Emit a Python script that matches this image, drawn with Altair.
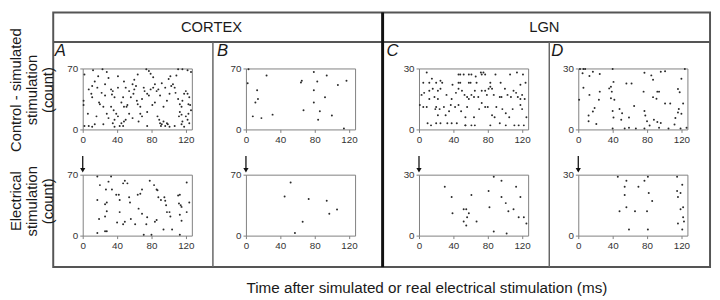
import altair as alt
import pandas as pd

# ---------------- data ----------------
X_DOMAIN = [0, 127]
X_TICKS = [0, 40, 80, 120]
CORTEX_MAX = 70
LGN_MAX = 30

A_top_t = [12,23,28,41,60,64,74,77,79,82,100,102,109,111,116,122,126,2,1,1,11,14,10,11,17,20,19,22,26,26,28,30,24,14,11,7,2,33,35,34,37,33,36,39,41,37,35,37,43,45,47,48,50,51,52,50,54,56,59,58,60,62,63,64,67,67,69,71,72,75,77,79,82,84,86,88,90,87,89,90,92,94,96,98,99,101,91,75,103,105,107,108,111,113,115,113,115,112,116,118,120,122,124,123,125,126,123,120,122,124,116,115,118,107,47,45,48,54,58,65,69,75,81,84,94,98,101,96,92,48,41,30,18,7,6,16,24]
A_top_n = [68,69,66,61,57,63,69,67,64,60,58,61,62,69,69,68,66,63,33,28,50,55,41,37,48,29,31,42,52,39,18,13,6,6,3,4,4,46,44,40,37,26,22,18,15,11,7,3,4,7,4,9,11,26,28,48,44,37,41,52,46,50,33,29,26,18,35,48,44,41,39,46,48,52,44,46,39,15,11,7,6,9,4,7,6,3,4,4,50,52,48,42,35,29,26,20,17,15,33,41,44,41,37,29,28,22,18,15,11,7,9,6,3,4,37,31,26,18,13,9,15,20,28,31,26,33,41,48,53,55,48,59,61,46,18,15,26]

B_top_t = [3,2,13,14,11,8,18,24,31,64,65,67,79,79,79,83,84,86,92,94,100,107,117,114]
B_top_n = [69,53,45,35,31,15,13,62,17,54,56,22,66,45,31,55,11,21,37,62,16,51,56,1]

C_top_t = [9,25,46,48,52,58,61,66,73,72,75,77,89,106,114,121,5,12,15,20,27,39,46,48,58,60,67,83,95,118,124,
           3,6,12,16,18,22,25,22,32,38,43,46,50,53,56,58,61,65,64,69,73,77,79,81,83,85,87,94,96,100,103,107,110,113,115,118,120,123,12,
           1,5,9,20,19,24,29,22,31,35,37,42,46,49,56,54,64,70,73,77,80,85,88,90,97,101,105,109,118,120,125,
           10,14,20,25,33,38,44,54,54,61,65,83,94,101,111,116,122]
C_top_n = [28,24,27,27,27,27,27,26,27,28,28,27,27,27,28,27,23,23,25,23,23,22,23,23,23,23,23,23,23,22,23,
           17,18,19,20,16,19,20,15,17,15,18,20,19,17,16,15,17,19,16,16,19,19,17,20,21,20,17,16,16,20,17,16,19,18,16,15,17,15,15,
           12,11,11,11,10,10,11,7,7,9,12,11,12,9,11,6,6,10,13,11,11,7,6,11,10,8,6,10,12,10,6,
           3,2,3,3,3,3,3,2,2,2,2,2,3,2,2,2,2]

D_top_t = [2,6,8,40,124,5,13,17,25,41,56,62,77,85,87,96,101,120,6,1,13,25,36,38,39,38,42,24,19,17,12,12,21,40,41,48,51,50,59,65,76,77,78,80,83,88,87,91,92,94,92,94,96,101,107,113,112,116,118,117,116,120,122,126,40,54,59,67,77,105,119]
D_top_n = [29.7,29.7,29.7,29.7,29.7,27.6,26.3,28.4,27.3,23.4,22.6,22.6,27.9,26.6,24.5,28.4,28.6,24.9,20.5,14.6,17,18.6,20.2,21,18.6,15.4,14.6,14.6,10.6,8.8,6.9,4,2.7,9.1,5.9,10.1,8,4.8,5.9,11.5,18.6,9.1,6.9,4,1.9,4.8,15.9,15.1,18.6,18.6,3.7,0.8,3.2,12.8,12.8,5.6,2.4,19.9,18.3,10.1,8.3,7.7,12.8,0.8,0.5,0.5,0.8,0.5,0.5,0.5,0.5]

A_bot_t = [17,33,20,27,30,34,47,49,52,78,83,86,87,121,17,26,28,39,42,43,54,55,64,67,69,88,91,95,96,97,111,113,112,114,115,124,28,26,19,43,40,49,47,56,61,65,69,74,75,84,86,98,101,102,113,115,121,17,26,28,71,80,94,104,113]
A_bot_n = [68,68,58,53,62,53,60,63,60,63,58,53,52,61,41,36,38,47,47,41,44,38,47,48,53,44,41,44,40,35,46,47,37,35,33,38,28,22,19,27,15,16,13,19,13,31,25,13,21,16,18,27,27,22,24,17,27,3,5,5,1,1,7,7,1]

B_bot_t = [52,45,73,94,106,97,66,57]
B_bot_n = [61,45,42,40,30,25,16,3]

C_bot_t = [30,38,39,61,55,52,58,56,52,55,67,81,82,87,87,96,96,101,104,110,113,118,116,122,125,102]
C_bot_n = [24,19,11,20,13,13,11,9,7,5,7,22,14,29,2,27,19,16,12,13,24,19,9,9,6,1]

D_bot_t = [46,56,54,54,70,77,81,82,86,56,48,66,80,59,81,115,121,115,119,116,119,122,122,123,116,121]
D_bot_n = [29,27,24,20,24,27,29,21,17,14,12,12,12,3,3,29,25,22,21,19,13,14,9,7,6,3]

REGIONS = ["CORTEX", "LGN"]
PANEL_LETTERS = ["A", "B", "C", "D"]
ROW_TITLES = [["Control - simulated", "stimulation", "(count)"],
              ["Electrical", "stimulation", "(count)"]]
X_TITLE = "Time after simulated or real electrical stimulation (ms)"

# ---------------- layout / style ----------------
FONT = "Liberation Sans"
W, H = 111, 62
GAPS = [55, 65, 51]
ROW_GAP = 46
ONE = pd.DataFrame({"k": [0]})
FRAME = "#555555"


def deco_rule(x=None, x2=None, y=None, y2=None, w=2, color=FRAME):
    enc = {}
    if x is not None:
        enc["x"] = alt.value(x)
    if x2 is not None:
        enc["x2"] = alt.value(x2)
    if y is not None:
        enc["y"] = alt.value(y)
    if y2 is not None:
        enc["y2"] = alt.value(y2)
    return alt.Chart(ONE).mark_rule(strokeWidth=w, color=color).encode(**enc)


def deco_text(txt, x, y, size, **kw):
    return alt.Chart(ONE).mark_text(text=txt, font=FONT, fontSize=size, color="#1a1a1a", **kw).encode(
        x=alt.value(x), y=alt.value(y))


def panel(t, n, ymax, arrow=False, extra=()):
    assert len(t) == len(n)
    df = pd.DataFrame({"t": t, "n": n})
    pts = alt.Chart(df).mark_circle(size=4, color="#2a2a2a", opacity=1).encode(
        x=alt.X("t:Q", scale=alt.Scale(domain=X_DOMAIN, nice=False, zero=False),
                axis=alt.Axis(values=X_TICKS, title=None, labelFlush=False)),
        y=alt.Y("n:Q", scale=alt.Scale(domain=[0, ymax], nice=False),
                axis=alt.Axis(values=[0, ymax], title=None, labelFlush=False)),
    )
    layers = [pts]
    if arrow:
        layers.append(alt.Chart(ONE).mark_rule(strokeWidth=1.3, color="#111111").encode(
            x=alt.value(0), y=alt.value(-19), y2=alt.value(-5)))
        layers.append(alt.Chart(ONE).mark_point(shape="triangle-down", filled=True, size=28,
                                                color="#111111", opacity=1).encode(
            x=alt.value(0), y=alt.value(-4.5)))
    layers.extend(extra)
    return alt.layer(*layers).properties(width=W, height=H)


def spacer(w):
    return alt.Chart(ONE).mark_point(opacity=0).encode(x=alt.value(0), y=alt.value(0)).properties(
        width=w, height=H, view=alt.ViewBackground(strokeOpacity=0))


# decorations, in pixels relative to panel A (top) plot origin
L, R, T, B = -30, 638, -57, 202
decor = [
    alt.Chart(ONE).mark_rect(opacity=0).encode(
        x=alt.value(-73), x2=alt.value(638), y=alt.value(-58), y2=alt.value(234)),
    alt.Chart(ONE).mark_rect(fillOpacity=0, stroke=FRAME, strokeWidth=2).encode(
        x=alt.value(L), x2=alt.value(R), y=alt.value(T), y2=alt.value(B)),
    deco_rule(x=L, x2=R, y=-27, w=2),
    deco_rule(x=132.4, y=-27, y2=B, w=1.5, color="#666666"),
    deco_rule(x=474.5, y=-27, y2=B, w=1.5, color="#666666"),
    deco_rule(x=305, y=T, y2=B, w=3, color="#111111"),
    deco_text(REGIONS[0], 131, -42.5, 15, align="center", baseline="middle"),
    deco_text(REGIONS[1], 469.5, -42.5, 15, align="center", baseline="middle"),
    deco_text(ROW_TITLES[0], -67.5, 22, 15, align="center", baseline="middle", angle=270, lineHeight=16),
    deco_text(ROW_TITLES[1], -67.5, 135, 15, align="center", baseline="middle", angle=270, lineHeight=16),
    deco_text(X_TITLE, 350, 223, 15.5, align="center", baseline="middle"),
]
for letter, lx in zip(PANEL_LETTERS, [-28.5, 136.5, 309, 476.5]):
    decor.append(deco_text(letter, lx, -12.4, 17, align="left", baseline="alphabetic", fontStyle="italic"))

top_row = [
    panel(A_top_t, A_top_n, CORTEX_MAX, extra=decor), spacer(GAPS[0]),
    panel(B_top_t, B_top_n, CORTEX_MAX), spacer(GAPS[1]),
    panel(C_top_t, C_top_n, LGN_MAX), spacer(GAPS[2]),
    panel(D_top_t, D_top_n, LGN_MAX),
]
bottom_row = [
    panel(A_bot_t, A_bot_n, CORTEX_MAX, arrow=True), spacer(GAPS[0]),
    panel(B_bot_t, B_bot_n, CORTEX_MAX, arrow=True), spacer(GAPS[1]),
    panel(C_bot_t, C_bot_n, LGN_MAX, arrow=True), spacer(GAPS[2]),
    panel(D_bot_t, D_bot_n, LGN_MAX, arrow=True),
]

chart = alt.concat(*(top_row + bottom_row), columns=7,
                   spacing={"row": ROW_GAP, "column": 0}, bounds="flush").properties(
    padding=0
).configure_view(
    stroke="#808080", strokeWidth=1
).configure_axis(
    labelFont=FONT, labelFontSize=10, labelColor="#333333", tickColor="#808080",
    tickSize=3, domain=False, grid=False, labelPadding=2
)

chart.save("out.html", embed_options={"renderer": "svg", "actions": False})
